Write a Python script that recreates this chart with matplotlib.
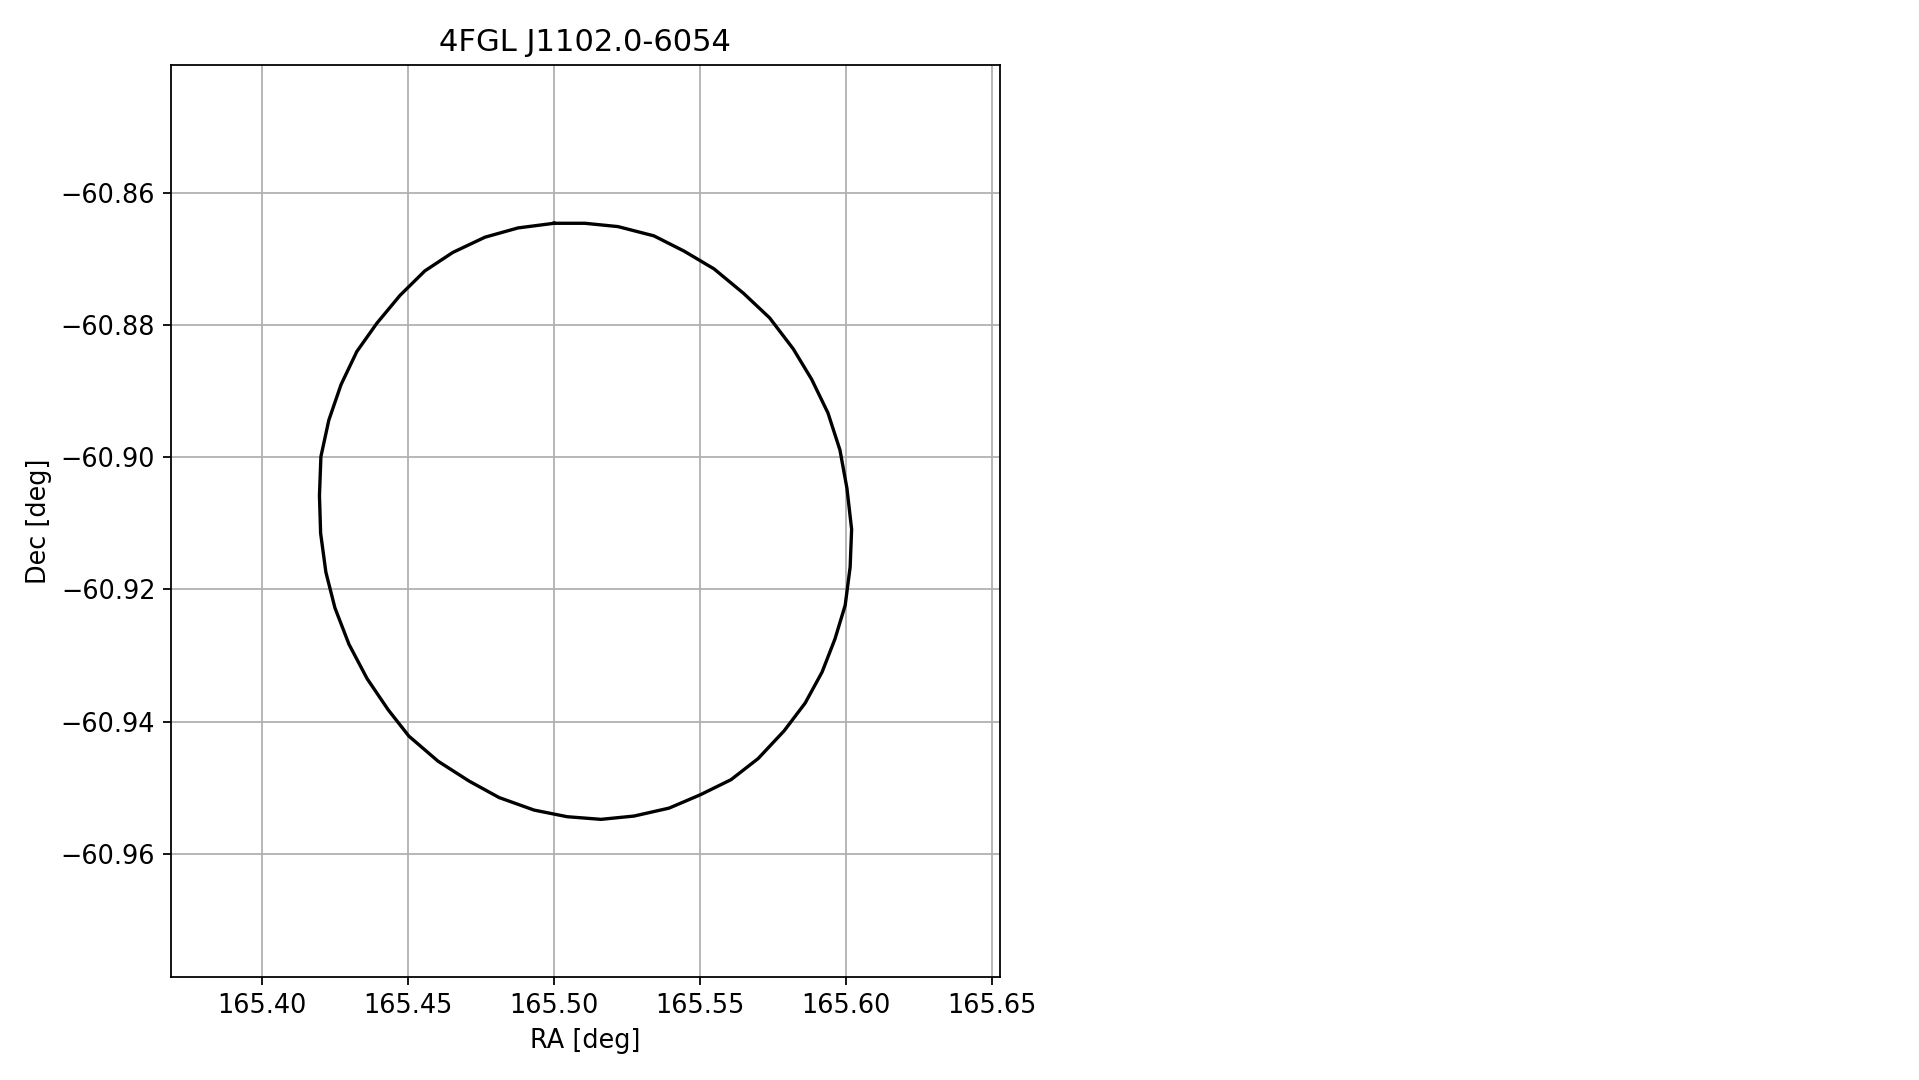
"""
Localisation ellipse of a Fermi source, plotted in RA/Dec.
"""

import matplotlib
matplotlib.use("Agg")
import matplotlib.pyplot as plt

# %% Data (polygon vertices of the ellipse)
SOURCE_NAME = "4FGL J1102.0-6054"

ra = [
    165.5000, 165.5106, 165.5219, 165.5342, 165.5445, 165.5548, 165.5649,
    165.5738, 165.5819, 165.5882, 165.5938, 165.5979, 165.6003, 165.6019,
    165.6014, 165.5997, 165.5962, 165.5918, 165.5860, 165.5788, 165.5699,
    165.5606, 165.5500, 165.5394, 165.5274, 165.5161, 165.5045, 165.4932,
    165.4812, 165.4709, 165.4603, 165.4503, 165.4432, 165.4360, 165.4298,
    165.4250, 165.4219, 165.4201, 165.4197, 165.4202, 165.4229, 165.4271,
    165.4325, 165.4394, 165.4473, 165.4558, 165.4654, 165.4764, 165.4877,
    165.5000,
]
dec = [
    -60.8646, -60.8646, -60.8651, -60.8665, -60.8688, -60.8715, -60.8752,
    -60.8789, -60.8836, -60.8882, -60.8933, -60.8989, -60.9047, -60.9109,
    -60.9166, -60.9224, -60.9275, -60.9325, -60.9372, -60.9414, -60.9456,
    -60.9488, -60.9511, -60.9531, -60.9543, -60.9548, -60.9544, -60.9534,
    -60.9515, -60.9490, -60.9460, -60.9422, -60.9382, -60.9335, -60.9283,
    -60.9228, -60.9174, -60.9115, -60.9058, -60.8999, -60.8944, -60.8890,
    -60.8840, -60.8797, -60.8755, -60.8718, -60.8690, -60.8667, -60.8653,
    -60.8646,
]

RA_LIM = (165.3688, 165.6527)
DEC_LIM = (-60.9787, -60.8406)

# %% Plotting
DPI = 160
plt.rcParams["font.size"] = 11.5

fig = plt.figure(figsize=(1919 / DPI, 1080 / DPI), dpi=DPI)
ax = fig.add_axes([0.0890, 0.0951, 0.4321, 0.8450])

ax.plot(ra, dec, c="k")

ax.set_xlim(*RA_LIM)
ax.set_ylim(*DEC_LIM)
ax.set_xlabel("RA [deg]")
ax.set_ylabel("Dec [deg]")
ax.set_title(SOURCE_NAME)
ax.grid()

fig.savefig("out.png", dpi=DPI)
